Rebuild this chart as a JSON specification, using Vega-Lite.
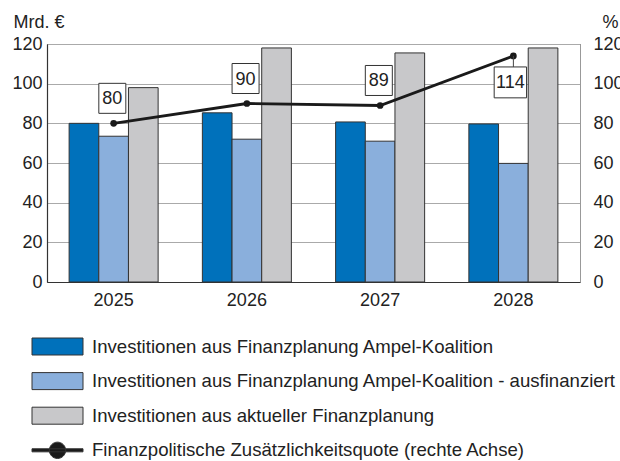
{
  "$schema": "https://vega.github.io/schema/vega-lite/v6.json",
  "autosize": "none",
  "padding": {"left": 47, "top": 44, "right": 40, "bottom": 179},
  "width": 533,
  "height": 238,
  "background": "white",
  "config": {
    "font": "Liberation Sans",
    "view": {"stroke": "#555", "strokeWidth": 1},
    "axis": {"labelFont": "Liberation Sans", "titleFont": "Liberation Sans", "labelColor": "#222", "titleColor": "#222", "labelFontSize": 18, "titleFontSize": 18, "titleFontWeight": "normal"},
    "legend": {"labelFont": "Liberation Sans", "labelFontSize": 18.6, "labelColor": "#222"}
  },
  "datasets": {
    "bars": [
      {"year": "2025", "series": "Investitionen aus Finanzplanung Ampel-Koalition", "value": 80},
      {"year": "2025", "series": "Investitionen aus Finanzplanung Ampel-Koalition - ausfinanziert", "value": 73.5},
      {"year": "2025", "series": "Investitionen aus aktueller Finanzplanung", "value": 98},
      {"year": "2026", "series": "Investitionen aus Finanzplanung Ampel-Koalition", "value": 85.3},
      {"year": "2026", "series": "Investitionen aus Finanzplanung Ampel-Koalition - ausfinanziert", "value": 72},
      {"year": "2026", "series": "Investitionen aus aktueller Finanzplanung", "value": 118},
      {"year": "2027", "series": "Investitionen aus Finanzplanung Ampel-Koalition", "value": 80.7},
      {"year": "2027", "series": "Investitionen aus Finanzplanung Ampel-Koalition - ausfinanziert", "value": 71},
      {"year": "2027", "series": "Investitionen aus aktueller Finanzplanung", "value": 115.5},
      {"year": "2028", "series": "Investitionen aus Finanzplanung Ampel-Koalition", "value": 79.7},
      {"year": "2028", "series": "Investitionen aus Finanzplanung Ampel-Koalition - ausfinanziert", "value": 59.8},
      {"year": "2028", "series": "Investitionen aus aktueller Finanzplanung", "value": 118}
    ],
    "quote": [
      {"year": "2025", "quote": 80},
      {"year": "2026", "quote": 90},
      {"year": "2027", "quote": 89},
      {"year": "2028", "quote": 114}
    ]
  },
  "resolve": {"scale": {"y": "independent"}, "axis": {"y": "independent"}},
  "layer": [
    {
      "data": {"name": "bars"},
      "mark": {"type": "bar", "stroke": "#333", "strokeWidth": 1},
      "encoding": {
        "x": {"field": "year", "type": "nominal", "scale": {"paddingInner": 0.332, "paddingOuter": 0.166},
              "axis": {"title": null, "labelAngle": 0, "ticks": false, "labelPadding": 9, "domainColor": "#333", "domainWidth": 1.2}},
        "xOffset": {"field": "series", "sort": ["Investitionen aus Finanzplanung Ampel-Koalition", "Investitionen aus Finanzplanung Ampel-Koalition - ausfinanziert", "Investitionen aus aktueller Finanzplanung"], "scale": {"paddingInner": 0, "paddingOuter": 0}},
        "y": {"field": "value", "type": "quantitative", "scale": {"domain": [0, 120], "nice": false},
              "axis": {"title": "Mrd. €", "titleAngle": 0, "titleAlign": "left", "titleBaseline": "alphabetic", "titleX": -34, "titleY": -17,
                       "values": [0, 20, 40, 60, 80, 100, 120], "ticks": false, "labelPadding": 5, "grid": true, "gridColor": "#aaaaaa", "gridWidth": 1, "domainColor": "#333", "domainWidth": 1.2}},
        "color": {"field": "series", "type": "nominal",
                  "scale": {"domain": ["Investitionen aus Finanzplanung Ampel-Koalition", "Investitionen aus Finanzplanung Ampel-Koalition - ausfinanziert", "Investitionen aus aktueller Finanzplanung", "Finanzpolitische Zusätzlichkeitsquote (rechte Achse)"],
                            "range": ["#0071bb", "#8aafdc", "#c8c8ca", "#1a1a1a"]},
                  "legend": {"title": null, "orient": "none", "legendX": -7, "legendY": 285, "padding": 0, "direction": "vertical",
                             "symbolSize": 1156, "symbolStrokeColor": "#333", "symbolStrokeWidth": 1, "symbolOpacity": 1,
                             "labelOffset": 17, "rowPadding": 6.6, "labelLimit": 600, "labelBaseline": "middle",
                             "encode": {"symbols": {"update": {"shape": {"signal": "datum.value === 'Finanzpolitische Zusätzlichkeitsquote (rechte Achse)' ? 'M-1.5,-0.09H1.5V0.09H-1.5Z M0.48,0A0.48,0.48 0 1 1 -0.48,0A0.48,0.48 0 1 1 0.48,0Z' : 'M-1.5,-0.5H1.5V0.5H-1.5Z'"}}}}}}
      }
    },
    {
      "data": {"name": "quote"},
      "encoding": {
        "x": {"field": "year", "type": "nominal"},
        "y": {"field": "quote", "type": "quantitative", "scale": {"domain": [0, 120], "nice": false},
              "axis": {"title": "%", "orient": "right", "titleAngle": 0, "titleAlign": "left", "titleBaseline": "alphabetic", "titleX": 22, "titleY": -17,
                       "values": [0, 20, 40, 60, 80, 100, 120], "ticks": false, "labelPadding": 13, "labelAlign": "left", "grid": false, "domainColor": "#999", "domainWidth": 1}}
      },
      "layer": [
        {
          "mark": {"type": "line", "color": "#1a1a1a", "strokeWidth": 2.8}
        },
        {
          "mark": {"type": "point", "filled": true, "color": "#1a1a1a", "size": 45, "opacity": 1}
        },
        {
          "transform": [{"filter": "datum.year == '2028'"}],
          "mark": {"type": "rule", "color": "#444", "strokeWidth": 1, "y2Offset": 11},
          "encoding": {
            "y2": {"field": "quote"}
          }
        },
        {
          "transform": [{"filter": "datum.year != '2028'"}],
          "mark": {"type": "point", "shape": "M-0.9,-1H0.9V1H-0.9Z", "size": 900, "filled": true, "fill": "white", "stroke": "#333", "strokeWidth": 1, "opacity": 1, "xOffset": -1.3, "yOffset": -25}
        },
        {
          "transform": [{"filter": "datum.year == '2028'"}],
          "mark": {"type": "point", "shape": "M-1.08,-1.03H1.08V1.03H-1.08Z", "size": 900, "filled": true, "fill": "white", "stroke": "#333", "strokeWidth": 1, "opacity": 1, "xOffset": -3, "yOffset": 26.5}
        },
        {
          "transform": [{"filter": "datum.year != '2028'"}],
          "mark": {"type": "text", "fontSize": 18, "color": "#222", "baseline": "middle", "align": "center", "xOffset": -1.3, "yOffset": -24},
          "encoding": {
            "text": {"field": "quote", "type": "quantitative"}
          }
        },
        {
          "transform": [{"filter": "datum.year == '2028'"}],
          "mark": {"type": "text", "fontSize": 18, "color": "#222", "baseline": "middle", "align": "center", "xOffset": -3, "yOffset": 27.5},
          "encoding": {
            "text": {"field": "quote", "type": "quantitative"}
          }
        }
      ]
    }
  ]
}
